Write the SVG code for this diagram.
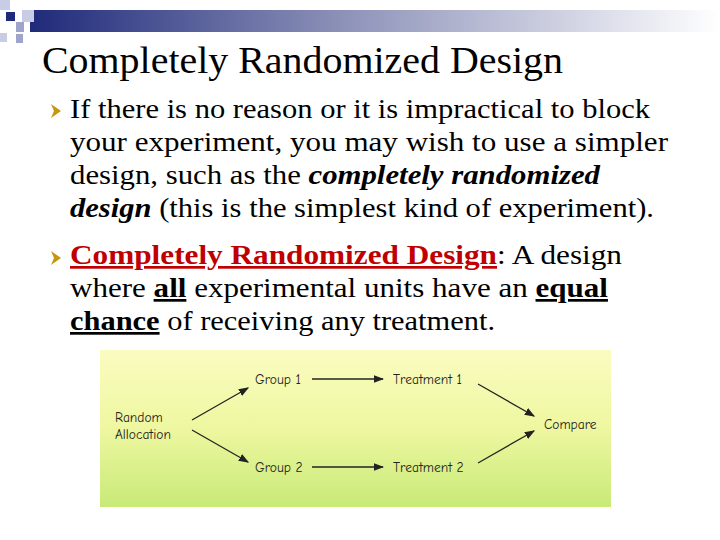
<svg xmlns="http://www.w3.org/2000/svg" width="720" height="540" viewBox="0 0 720 540">
<style>
.t{font-family:"Liberation Serif",serif;font-size:27px;fill:#000}
.h{font-family:"Comic Neue","DejaVu Sans",sans-serif;font-size:13.5px;fill:#222}
.c{stroke:#222;stroke-width:1.3;fill:none;marker-end:url(#a)}
</style>
<defs>
<linearGradient id="bar" x1="0" x2="1"><stop offset="0" stop-color="#1f2a7a"/><stop offset="0.45" stop-color="#8c91b8"/><stop offset="1" stop-color="#fff"/></linearGradient>
<linearGradient id="bg" x1="0" y1="0" x2="0" y2="1"><stop offset="0" stop-color="#fafcc0"/><stop offset="0.5" stop-color="#eef7a0"/><stop offset="1" stop-color="#c8ea78"/></linearGradient>
<marker id="a" markerWidth="8" markerHeight="6" refX="7" refY="3" orient="auto"><path d="M0,0L8,3L0,6z" fill="#222"/></marker>
</defs>
<rect x="30" y="10" width="690" height="22" fill="url(#bar)"/>
<rect x="0" y="0" width="10" height="10" fill="#c8cce4"/>
<rect x="6" y="12" width="9" height="9" fill="#1f2a7a"/>
<rect x="22" y="10" width="12" height="12" fill="#c8cce4"/>
<rect x="16" y="22" width="8" height="10" fill="#9ea4cc"/>
<rect x="0" y="33" width="7" height="9" fill="#c8cce4"/>
<rect x="16" y="34" width="7" height="9" fill="#9ea4cc"/>
<text x="42" y="73" font-family="Liberation Serif,serif" font-size="38" textLength="521" lengthAdjust="spacingAndGlyphs">Completely Randomized Design</text>
<g fill="#c8960c"><path d="M51,104l10,7l-10,7l3,-7z"/><path d="M51,251l10,7l-10,7l3,-7z"/></g>
<text class="t" x="70" y="118" textLength="580" lengthAdjust="spacingAndGlyphs">If there is no reason or it is impractical to block</text>
<text class="t" x="70" y="151" textLength="598" lengthAdjust="spacingAndGlyphs">your experiment, you may wish to use a simpler</text>
<text class="t" x="70" y="184" textLength="530" lengthAdjust="spacingAndGlyphs">design, such as the <tspan font-weight="bold" font-style="italic">completely randomized</tspan></text>
<text class="t" x="70" y="217" textLength="584" lengthAdjust="spacingAndGlyphs"><tspan font-weight="bold" font-style="italic">design</tspan> (this is the simplest kind of experiment).</text>
<text class="t" x="70" y="264" textLength="552" lengthAdjust="spacingAndGlyphs"><tspan font-weight="bold" fill="#c00000" text-decoration="underline">Completely Randomized Design</tspan>:  A design</text>
<text class="t" x="70" y="297" textLength="538" lengthAdjust="spacingAndGlyphs">where <tspan font-weight="bold" text-decoration="underline">all</tspan> experimental units have an <tspan font-weight="bold" text-decoration="underline">equal</tspan></text>
<text class="t" x="70" y="330" textLength="425" lengthAdjust="spacingAndGlyphs"><tspan font-weight="bold" text-decoration="underline">chance</tspan> of receiving any treatment.</text>
<rect x="100" y="350" width="511" height="157" fill="url(#bg)"/>
<g id="random"><text class="h" x="115" y="422">Random</text><text class="h" x="115" y="439">Allocation</text></g>
<g id="group1"><text class="h" x="255" y="384">Group 1</text></g>
<g id="treat1"><text class="h" x="393" y="384">Treatment 1</text></g>
<g id="group2"><text class="h" x="255" y="472">Group 2</text></g>
<g id="treat2"><text class="h" x="393" y="472">Treatment 2</text></g>
<g id="compare"><text class="h" x="544" y="429">Compare</text></g>
<g id="connectors">
<line class="c" x1="192" y1="420" x2="248" y2="388"/>
<line class="c" x1="192" y1="430" x2="248" y2="462"/>
<line class="c" x1="312" y1="379" x2="383" y2="379"/>
<line class="c" x1="312" y1="467" x2="383" y2="467"/>
<line class="c" x1="478" y1="384" x2="534" y2="416"/>
<line class="c" x1="478" y1="463" x2="534" y2="431"/>
</g>
</svg>
